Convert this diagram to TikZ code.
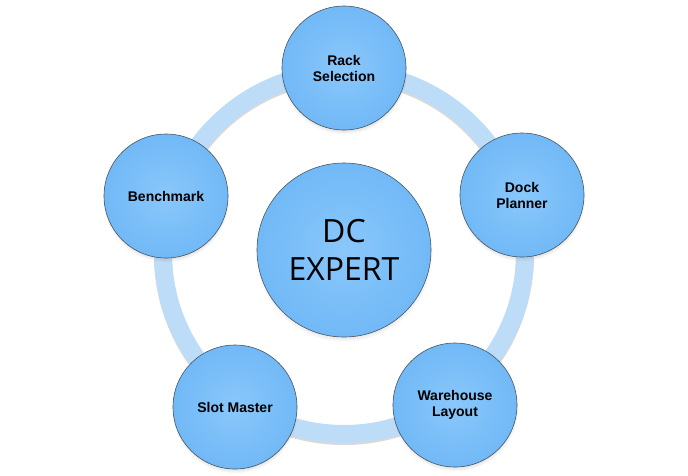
\documentclass[tikz,border=0pt]{standalone}
\usepackage{fontspec}
\setmainfont{Liberation Sans}
\newfontfamily\bigfont{Open Sans}
\usetikzlibrary{shadows}
\definecolor{ringblue}{HTML}{BDDCF8}
\definecolor{ballin}{HTML}{8AC7FA}
\definecolor{ballout}{HTML}{71B9F7}
\definecolor{ballline}{HTML}{4A5560}
\tikzset{
  ball/.style={circle, draw=ballline, line width=0.6pt, inner sep=0pt,
    inner color=ballin, outer color=ballout,
    circular drop shadow={shadow xshift=0pt, shadow yshift=-3pt, shadow scale=1.02, opacity=0.45},
    align=center, font=\bfseries\fontsize{14}{16}\selectfont},
  smallball/.style={ball, minimum size=124pt},
  bigball/.style={ball, minimum size=174pt, font=\bigfont\fontsize{32}{38}\selectfont}
}
\begin{document}
\begin{tikzpicture}[x=1pt,y=-1pt]
\useasboundingbox (0,0) rectangle (688,475);
\coordinate (ringc) at (344,253);
\draw[line width=18pt, black, opacity=0.15] ([yshift=-2pt]ringc) circle[radius=181];
\draw[line width=18pt, ringblue] (ringc) circle[radius=181];
\node[bigball] (core) at (344,250) {DC\\EXPERT};
\node[smallball] (rack) at (344,68) {Rack\\Selection};
\node[smallball] (dock) at (522,195) {Dock\\Planner};
\node[smallball] (ware) at (455,405) {Warehouse\\Layout};
\node[smallball] (slot) at (235,407) {Slot Master};
\node[smallball] (bench) at (166,196) {Benchmark};
\end{tikzpicture}
\end{document}
